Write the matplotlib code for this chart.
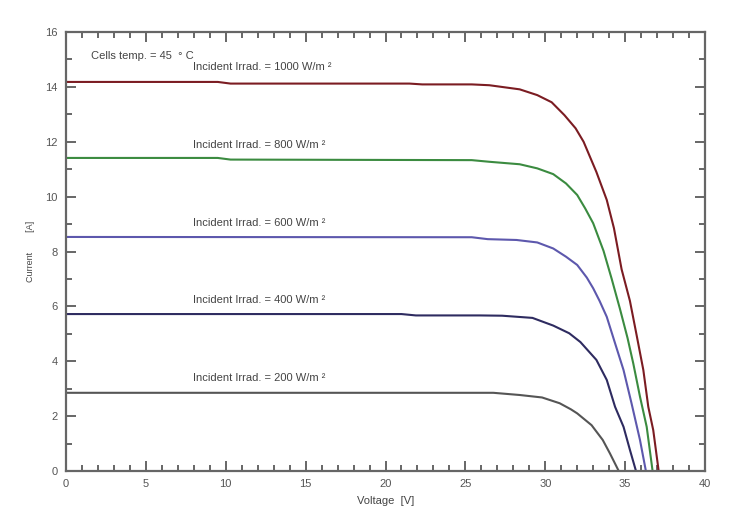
import matplotlib
matplotlib.use("Agg")
import matplotlib.pyplot as plt
from matplotlib.ticker import MultipleLocator

plt.rcParams['font.family'] = ['Liberation Sans', 'DejaVu Sans']

# Data (voltage V, current A)
v_1000 = [0, 9.5, 10.3, 21.5, 22.3, 25.4, 26.5, 28.4, 29.5, 30.4, 31.2, 31.9, 32.4, 32.8, 33.2,
          33.85, 34.3, 34.78, 35.3, 35.72, 36.14, 36.45, 36.76, 37.1]
i_1000 = [14.18, 14.18, 14.12, 14.12, 14.09, 14.09, 14.06, 13.91, 13.70, 13.44, 12.97, 12.49, 12.00, 11.45, 10.90,
          9.88, 8.85, 7.35, 6.20, 4.95, 3.68, 2.34, 1.49, 0.0]

v_800 = [0, 9.5, 10.3, 25.4, 26.5, 28.4, 29.5, 30.5, 31.3, 32.0, 32.5, 33.0, 33.65, 34.16,
         34.68, 35.15, 35.51, 35.93, 36.35, 36.72]
i_800 = [11.41, 11.41, 11.35, 11.33, 11.27, 11.18, 11.03, 10.82, 10.48, 10.06, 9.57, 9.03, 8.02, 7.00,
         5.90, 4.85, 3.92, 2.71, 1.61, 0.0]

v_600 = [0, 25.4, 26.4, 28.2, 29.5, 30.5, 31.3, 32.0, 32.6, 33.0, 33.4, 33.85, 34.4, 34.9,
         35.4, 35.93, 36.3]
i_600 = [8.53, 8.52, 8.45, 8.42, 8.33, 8.11, 7.81, 7.51, 7.05, 6.66, 6.20, 5.62, 4.60, 3.68,
         2.47, 1.13, 0.0]

v_400 = [0, 21.0, 21.9, 25.9, 27.3, 29.2, 30.5, 31.5, 32.2, 33.2, 33.85, 34.37, 34.9, 35.3, 35.68]
i_400 = [5.72, 5.72, 5.67, 5.67, 5.66, 5.58, 5.30, 5.02, 4.70, 4.05, 3.32, 2.34, 1.61, 0.77, 0.0]

v_200 = [0, 26.75, 28.4, 29.8, 30.9, 31.6, 32.0, 32.9, 33.6, 34.05, 34.6]
i_200 = [2.85, 2.85, 2.77, 2.68, 2.47, 2.25, 2.10, 1.67, 1.13, 0.64, 0.0]

series = [
    (v_1000, i_1000, '#7b1c22', 'Incident Irrad. = 1000 W/m \u00b2', 14.72),
    (v_800, i_800, '#3b8b40', 'Incident Irrad. = 800 W/m \u00b2', 11.88),
    (v_600, i_600, '#5d58ad', 'Incident Irrad. = 600 W/m \u00b2', 9.04),
    (v_400, i_400, '#2e2b60', 'Incident Irrad. = 400 W/m \u00b2', 6.23),
    (v_200, i_200, '#555555', 'Incident Irrad. = 200 W/m \u00b2', 3.39),
]

fig = plt.figure(figsize=(7.42, 5.28), dpi=100)
ax = fig.add_axes([66/742, 57/528, (705-66)/742, (471-32)/528])

for v, i, c, lab, ly in series:
    ax.plot(v, i, color=c, lw=1.5, solid_joinstyle='round')
    ax.text(7.95, ly, lab, fontsize=8, color='#444444', va='center', ha='left')

ax.text(1.56, 15.12, 'Cells temp. = 45  \u00b0 C', fontsize=8, color='#444444', va='center', ha='left')

ax.set_xlim(0, 40)
ax.set_ylim(0, 16)
ax.xaxis.set_major_locator(MultipleLocator(5))
ax.xaxis.set_minor_locator(MultipleLocator(1))
ax.yaxis.set_major_locator(MultipleLocator(2))
ax.yaxis.set_minor_locator(MultipleLocator(1))

gray = '#666666'
for s in ax.spines.values():
    s.set_color(gray)
    s.set_linewidth(1.6)
ax.tick_params(which='both', direction='in', top=True, right=True, color=gray,
               labelcolor='#555555', labelsize=8, width=1.4)
ax.tick_params(which='major', length=7.5, pad=6)
ax.tick_params(which='minor', length=4)

ax.set_xlabel('Voltage  [V]', fontsize=8, color='#444444', labelpad=5)
ax.set_ylabel('Current        [A]', fontsize=6.5, color='#444444', labelpad=7)

fig.savefig('out.png', dpi=100)
